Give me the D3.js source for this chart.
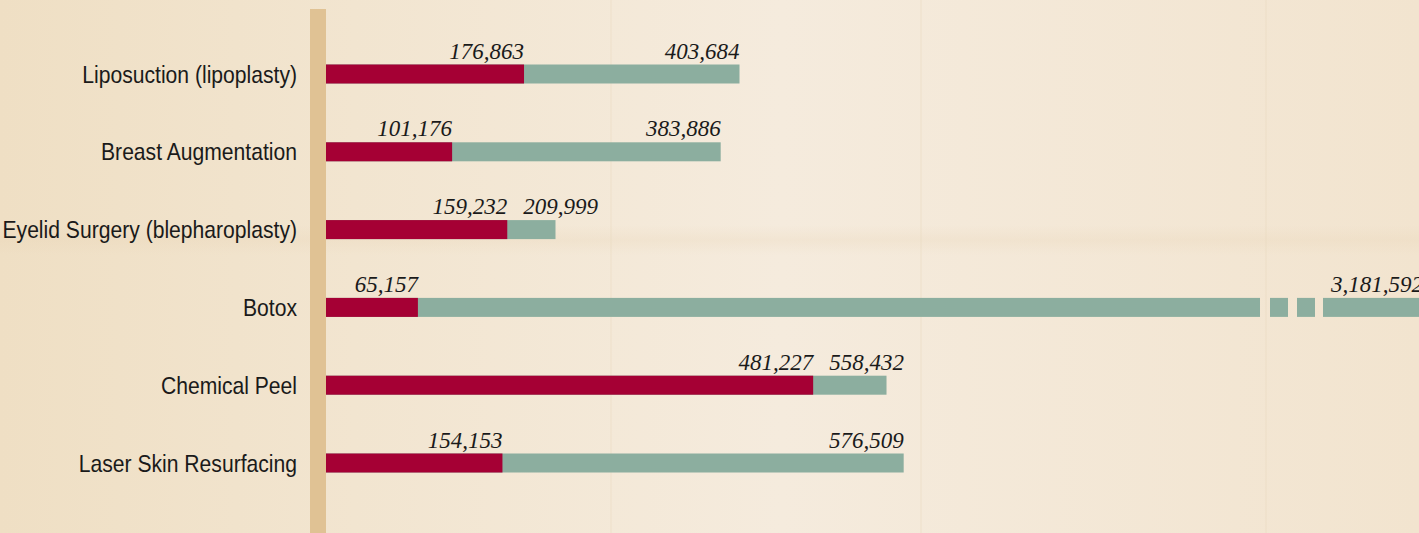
<!DOCTYPE html>
<html>
<head>
<meta charset="utf-8">
<script src="https://cdn.jsdelivr.net/npm/d3@7"></script>
<style>
  html, body { margin: 0; padding: 0; background: #f3e7d4; }
  svg { display: block; }
</style>
</head>
<body>
<svg id="chart" width="1419" height="533"></svg>
<script>
// ---- data ----
const categories = [
  "Liposuction (lipoplasty)",
  "Breast Augmentation",
  "Eyelid Surgery (blepharoplasty)",
  "Botox",
  "Chemical Peel",
  "Laser Skin Resurfacing"
];
const valuesBefore = [176863, 101176, 159232, 65157, 481227, 154153];
const valuesAfter  = [403684, 383886, 209999, 3181592, 558432, 576509];

// ---- setup ----
const W = 1419, H = 533;
const svg = d3.select("#chart");
const defs = svg.append("defs");

// background parchment
const bg = defs.append("linearGradient").attr("id", "bg").attr("x1", "0").attr("x2", "1").attr("y1", "0").attr("y2", "0");
bg.append("stop").attr("offset", "0").attr("stop-color", "#efdfc4");
bg.append("stop").attr("offset", "0.25").attr("stop-color", "#f2e5d0");
bg.append("stop").attr("offset", "0.55").attr("stop-color", "#f5ebdd");
bg.append("stop").attr("offset", "1").attr("stop-color", "#f2e4cf");
svg.append("rect").attr("width", W).attr("height", H).attr("fill", "url(#bg)");

const band = defs.append("linearGradient").attr("id", "band").attr("x1", "0").attr("x2", "0").attr("y1", "0").attr("y2", "1");
band.append("stop").attr("offset", "0").attr("stop-color", "#e8d3b4").attr("stop-opacity", 0);
band.append("stop").attr("offset", "0.5").attr("stop-color", "#e8d3b4").attr("stop-opacity", 0.25);
band.append("stop").attr("offset", "1").attr("stop-color", "#e8d3b4").attr("stop-opacity", 0);
svg.append("rect").attr("x", 0).attr("y", 225).attr("width", W).attr("height", 30).attr("fill", "url(#band)");

// faint vertical page seams
[610, 920, 1265].forEach(x => {
  svg.append("rect").attr("x", x).attr("y", 0).attr("width", 2).attr("height", H)
    .attr("fill", "#e8d6ba").attr("opacity", 0.25);
});

// ---- scales ----
const axisX = 326;
const x = d3.scaleLinear().domain([0, 600000]).range([356, 926]);
const y = d3.scalePoint().domain(categories).range([74, 463]);
const barH = 19;
const maxBar = W; // visible end of the chart
const redColor = "#a50034", greenColor = "#8cae9f";

// vertical axis strip
svg.append("rect").attr("x", axisX - 16).attr("y", 9).attr("width", 16).attr("height", H - 9)
  .attr("fill", "#e0c294");

// category labels (condensed look via horizontal scale)
const labelX = axisX - 29;
svg.append("g").selectAll("text").data(categories).join("text")
  .attr("transform", d => `translate(${labelX},${y(d)}) scale(0.88,1)`)
  .attr("dy", "0.36em")
  .attr("text-anchor", "end")
  .attr("font-family", "'Liberation Sans', Arial, sans-serif")
  .attr("font-size", 24)
  .attr("fill", "#1a1a1a")
  .text(d => d);

const rows = categories.map((c, i) => ({ c, before: valuesBefore[i], after: valuesAfter[i] }));

// green (after) bars
const g = svg.append("g");
rows.forEach(r => {
  const yTop = y(r.c) - barH / 2;
  const end = x(r.after);
  if (end <= maxBar) {
    g.append("rect").attr("x", axisX).attr("y", yTop).attr("width", end - axisX).attr("height", barH).attr("fill", greenColor);
  } else {
    // broken bar: long segment, two small blocks, then continuing to edge
    const segs = [[axisX, maxBar - 159], [maxBar - 149, maxBar - 131], [maxBar - 122, maxBar - 104], [maxBar - 96, maxBar + 10]];
    segs.forEach(s => g.append("rect").attr("x", s[0]).attr("y", yTop).attr("width", s[1] - s[0]).attr("height", barH).attr("fill", greenColor));
  }
});
// red (before) bars
rows.forEach(r => {
  const yTop = y(r.c) - barH / 2;
  g.append("rect").attr("x", axisX).attr("y", yTop).attr("width", x(r.before) - axisX).attr("height", barH).attr("fill", redColor);
});

// value labels
const fmt = d3.format(",");
const lab = svg.append("g")
  .attr("font-family", "'Liberation Serif', 'DejaVu Serif', serif")
  .attr("font-style", "italic")
  .attr("font-size", 23)
  .attr("fill", "#1a1a1a")
  .attr("text-anchor", "end");
rows.forEach(r => {
  const base = y(r.c) - barH / 2 - 6;
  const redEnd = x(r.before);
  lab.append("text").attr("x", redEnd).attr("y", base).text(fmt(r.before));
  const t = lab.append("text").attr("y", base).text(fmt(r.after));
  const w = t.node().getComputedTextLength();
  let endA = Math.min(x(r.after), maxBar + 4);
  endA = Math.max(endA, redEnd + 16 + w); // push right to avoid overlapping the red label
  t.attr("x", endA);
});
</script>
</body>
</html>
